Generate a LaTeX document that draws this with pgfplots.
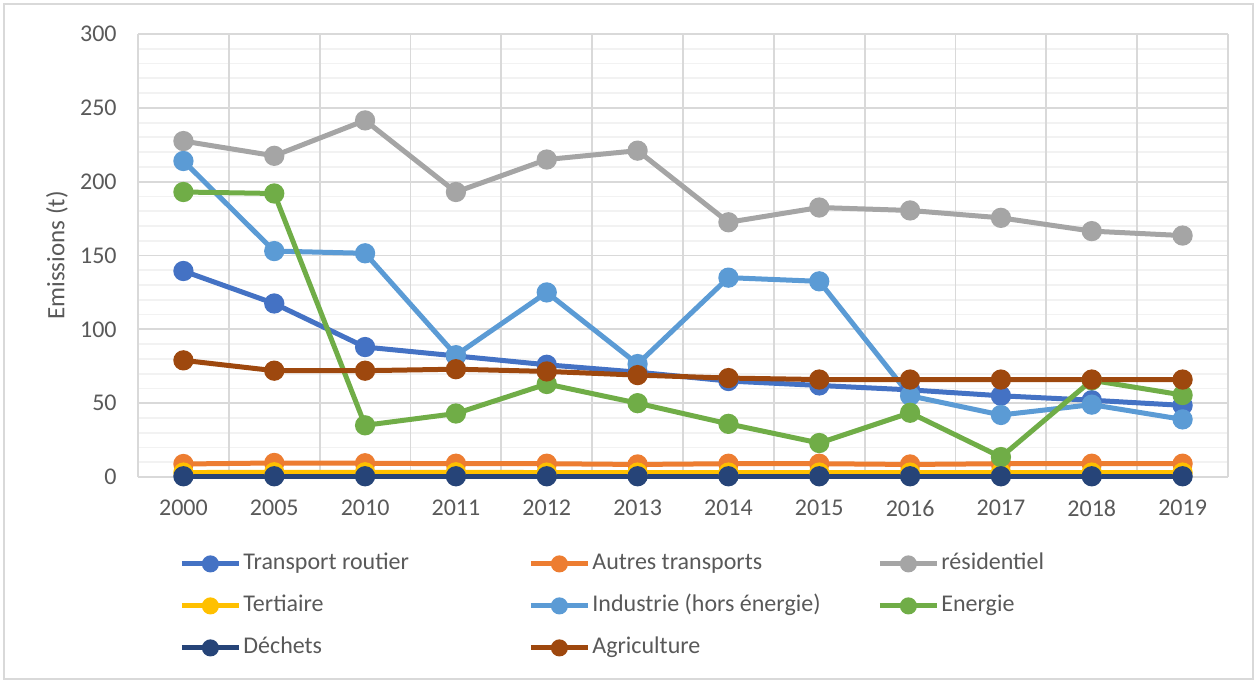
\documentclass[border=0pt]{standalone}
\usepackage{fontspec}
\setmainfont{Carlito}
\usepackage{pgfplots}
\usepackage{pgfplotstable}
\pgfplotsset{compat=1.18}
\definecolor{cTR}{HTML}{4472C4}
\definecolor{cAT}{HTML}{ED7D31}
\definecolor{cRE}{HTML}{A5A5A5}
\definecolor{cTE}{HTML}{FFC000}
\definecolor{cIN}{HTML}{5B9BD5}
\definecolor{cEN}{HTML}{70AD47}
\definecolor{cDE}{HTML}{264478}
\definecolor{cAG}{HTML}{9E480E}
\definecolor{tick}{HTML}{595959}
\definecolor{gmaj}{HTML}{D9D9D9}
\definecolor{gmin}{HTML}{F2F2F2}
\pgfplotstableread{
x tr at re te in en de ag
0 139.5 8.8 227.5 3.0 214 193 0.5 79
1 117.5 9.5 217.5 3.2 153 192 0.5 72
2 88 9.3 241.5 3.2 151.5 35 0.5 72
3 82 9.0 193 3.2 82.5 43 0.5 73
4 76 9.0 215 3.0 125 63 0.5 71.5
5 71 8.5 221 3.0 76.5 50 0.5 69
6 65 9.0 172.5 3.0 135 36 0.5 67
7 62 9.0 182.5 3.0 132.5 23 0.5 66
8 59 8.5 180.5 3.0 55 43.5 0.5 66
9 55 9.0 175.5 3.0 42 13.5 0.5 66
10 52 9.0 166.5 3.0 49 65.5 0.5 66
11 48.5 9.0 163.5 3.0 39 55.5 0.5 66
}\data
\begin{document}
\begin{tikzpicture}
\useasboundingbox (0,0) rectangle (628.5pt,340.5pt);
\draw[gmaj,line width=0.8pt] (2pt,1pt) rectangle (626.5pt,338.5pt);
\begin{axis}[
  at={(69pt,102pt)}, anchor=south west,
  scale only axis, width=545pt, height=221.5pt,
  xmin=-0.5, xmax=11.5, ymin=0, ymax=300,
  clip=false,
  axis line style={draw=none},
  major tick length=0pt, minor tick length=0pt,
  xtick={0,1,2,3,4,5,6,7,8,9,10,11},
  xticklabels={2000,2005,2010,2011,2012,2013,2014,2015,2016,2017,2018,2019},
  ytick={0,50,100,150,200,250,300},
  minor ytick={10,20,30,40,60,70,80,90,110,120,130,140,160,170,180,190,210,220,230,240,260,270,280,290},
  ymajorgrids, yminorgrids,
  major grid style={gmaj, line width=0.9pt},
  minor grid style={gmin, line width=0.9pt},
  extra x ticks={-0.5,0.5,1.5,2.5,3.5,4.5,5.5,6.5,7.5,8.5,9.5,10.5,11.5},
  extra x tick labels={},
  extra x tick style={xmajorgrids=true, major grid style={gmaj, line width=0.9pt}},
  /pgf/number format/assume math mode=true,
  ticklabel style={font=\fontsize{12}{14}\selectfont, text=tick},
  yticklabel style={inner sep=0pt, xshift=-10.5pt},
  xticklabel style={inner sep=0pt, yshift=-11.5pt},
  ylabel={Emissions (t)},
  ylabel style={at={(axis description cs:-0.0743,0.5)}, anchor=center, font=\fontsize{12.5}{14}\selectfont, text=tick},
  every axis plot/.append style={line width=2.5pt, mark=*, mark size=3.8pt, mark options={solid}},
  legend image code/.code={\draw[mark repeat=2,mark phase=2,mark size=3pt] plot coordinates {(0pt,0pt) (14.25pt,0pt) (28.5pt,0pt)};},
  legend columns=3,
  legend style={draw=none, fill=none, at={(axis description cs:0,0)}, anchor=north west,
    xshift=20.5pt, yshift=-38pt, inner sep=0pt, row sep=10.5pt,
    font=\fontsize{12}{14}\selectfont, text=tick,
    nodes={inner sep=0pt, inner xsep=1pt, text height=8pt, text depth=2.5pt}},
  legend cell align=left,
]
\addplot[cTR, mark options={fill=cTR}] table[x=x,y=tr]{\data};
\addlegendentry{\makebox[141.5pt][l]{Transport routier}}
\addplot[cAT, mark options={fill=cAT}] table[x=x,y=at]{\data};
\addlegendentry{\makebox[141.5pt][l]{Autres transports}}
\addplot[cRE, mark options={fill=cRE}] table[x=x,y=re]{\data};
\addlegendentry{\makebox[141.5pt][l]{résidentiel}}
\addplot[cTE, mark options={fill=cTE}] table[x=x,y=te]{\data};
\addlegendentry{\makebox[141.5pt][l]{Tertiaire}}
\addplot[cIN, mark options={fill=cIN}] table[x=x,y=in]{\data};
\addlegendentry{\makebox[141.5pt][l]{Industrie (hors énergie)}}
\addplot[cEN, mark options={fill=cEN}] table[x=x,y=en]{\data};
\addlegendentry{\makebox[141.5pt][l]{Energie}}
\addplot[cDE, mark options={fill=cDE}] table[x=x,y=de]{\data};
\addlegendentry{\makebox[141.5pt][l]{Déchets}}
\addplot[cAG, mark options={fill=cAG}] table[x=x,y=ag]{\data};
\addlegendentry{\makebox[141.5pt][l]{Agriculture}}
\end{axis}
\end{tikzpicture}
\end{document}
